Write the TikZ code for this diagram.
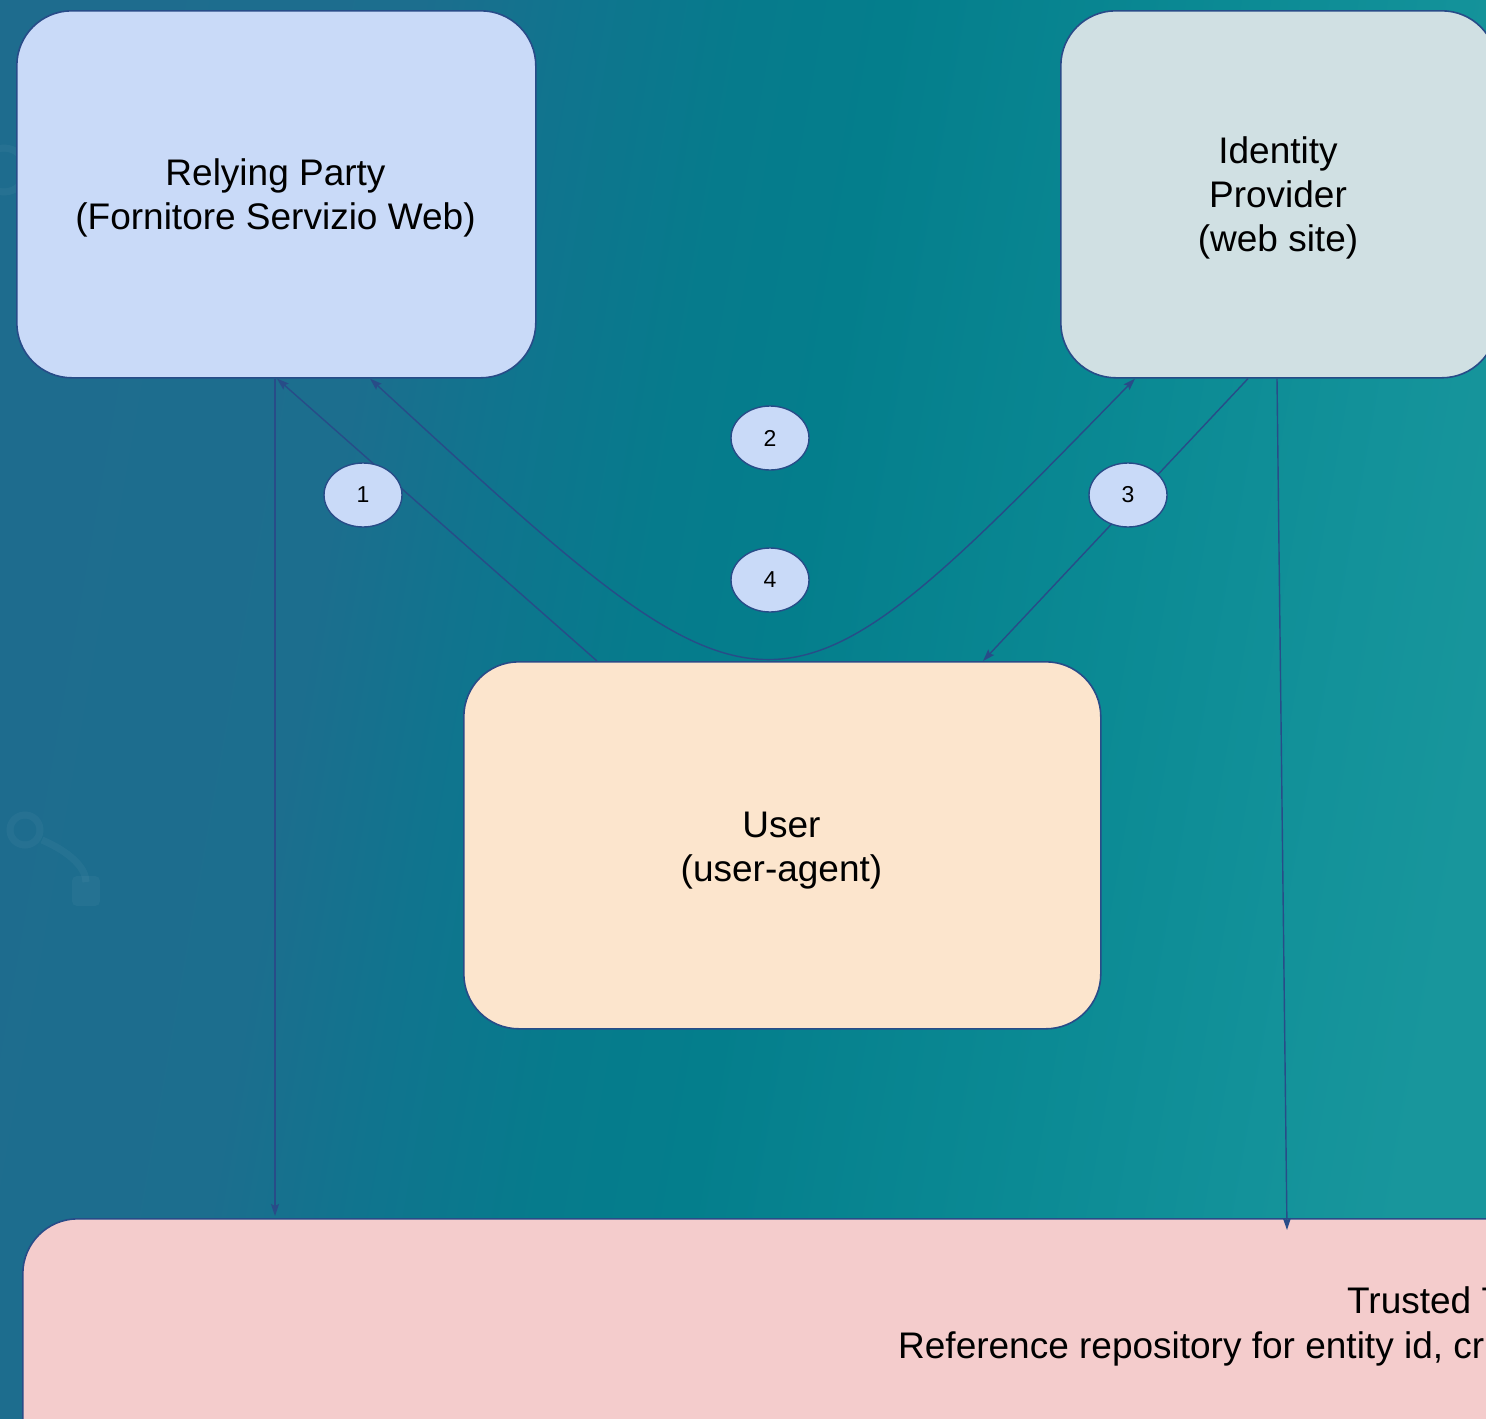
\documentclass[tikz,border=0pt]{standalone}
\usepackage{fontspec}
\setmainfont{Liberation Sans}
\usetikzlibrary{shapes.geometric,arrows.meta,shadings}

\definecolor{edge}{RGB}{40,76,136}
\definecolor{rpfill}{RGB}{201,218,248}
\definecolor{idpfill}{RGB}{208,224,227}
\definecolor{userfill}{RGB}{252,229,205}
\definecolor{ttpfill}{RGB}{244,204,204}

% backdrop: blue on the left, deep teal in the middle, light teal on the right
\pgfdeclarehorizontalshading{backdrop}{100bp}{%
  rgb(0bp)=(0.118,0.424,0.557);
  rgb(25bp)=(0.118,0.424,0.557);
  rgb(35bp)=(0.110,0.431,0.557);
  rgb(40bp)=(0.063,0.455,0.557);
  rgb(46bp)=(0.024,0.482,0.549);
  rgb(51bp)=(0.016,0.494,0.549);
  rgb(62bp)=(0.043,0.541,0.580);
  rgb(70bp)=(0.075,0.573,0.604);
  rgb(75bp)=(0.094,0.588,0.612);
  rgb(100bp)=(0.094,0.588,0.612)}

\begin{document}
\begin{tikzpicture}[x=1pt,y=-1pt,
  box/.style={draw=edge, line width=1.6pt, rounded corners=55pt, inner sep=0pt},
  boxtext/.style={align=center, inner sep=0pt, font=\fontsize{37}{44}\selectfont},
  badge/.style={ellipse, draw=edge, line width=1.4pt, fill=rpfill,
    minimum width=78pt, minimum height=64pt, inner sep=0pt,
    font=\fontsize{23}{26}\selectfont},
  link/.style={draw=edge, line width=1.4pt},
  head/.tip={Stealth[length=12pt,width=8pt,inset=2pt]}
]
\useasboundingbox (0,0) rectangle (1486,1419);
\clip (0,0) rectangle (1486,1419);

% background
\shade[shading=backdrop, shading angle=-10] (0,0) rectangle (1486,1419);

% faint emblem on the left edge
\begin{scope}[white, opacity=0.04]
  \draw[line width=7pt] (25,830) circle (15);
  \draw[line width=7pt] (42,840) .. controls (70,852) and (86,868) .. (86,882);
  \fill[rounded corners=5pt] (72,876) rectangle (100,906);
  \draw[line width=7pt] (4,170) circle (22);
\end{scope}

% parties
\node[box, fill=rpfill, minimum width=519pt, minimum height=367pt, anchor=north west]
  (rp) at (16,10) {};
\node[boxtext] (rptext) at (275.5,197.5) {Relying Party\\(Fornitore Servizio Web)};
\node[box, fill=idpfill, minimum width=436pt, minimum height=367pt, anchor=north west]
  (idp) at (1060,10) {};
\node[boxtext] (idptext) at (1278,197.5) {Identity\\Provider\\(web site)};
\node[box, fill=userfill, minimum width=637pt, minimum height=367pt, anchor=north west]
  (user) at (463,661) {};
\node[boxtext] (usertext) at (781.5,850.5) {User\\(user-agent)};
\node[box, fill=ttpfill, minimum width=2600pt, minimum height=420pt, anchor=north west]
  (ttp) at (22,1218) {};
\node[boxtext, anchor=base west] (ttptitle) at (1347,1313) {Trusted T};
\node[boxtext, anchor=base west] (ttpdesc) at (898,1358) {Reference repository for entity id, cr};

% anchor point on the trust box border
\coordinate (ttpin) at ([xshift=1265pt,yshift=-12pt]ttp.north west);

% connectors
\draw[link, -head] ([xshift=134pt]user.north west) -- ([xshift=261pt]rp.south west);
\draw[link, head-head] ([xshift=354pt]rp.south west)
  .. controls (775,751) and (772,751) .. ([xshift=75pt]idp.south west);
\draw[link, -head] ([xshift=188pt]idp.south west) -- ([xshift=520pt]user.north west);
\draw[link, -head] ([xshift=259pt]rp.south west) -- ([xshift=253pt,yshift=2pt]ttp.north west);
\draw[link, -head] ([xshift=217pt]idp.south west) -- (ttpin);

% step numbers
\node[badge] (s1) at (363,495) {1};
\node[badge] (s2) at (770,438) {2};
\node[badge] (s3) at (1128,495) {3};
\node[badge] (s4) at (770,580) {4};
\end{tikzpicture}
\end{document}
